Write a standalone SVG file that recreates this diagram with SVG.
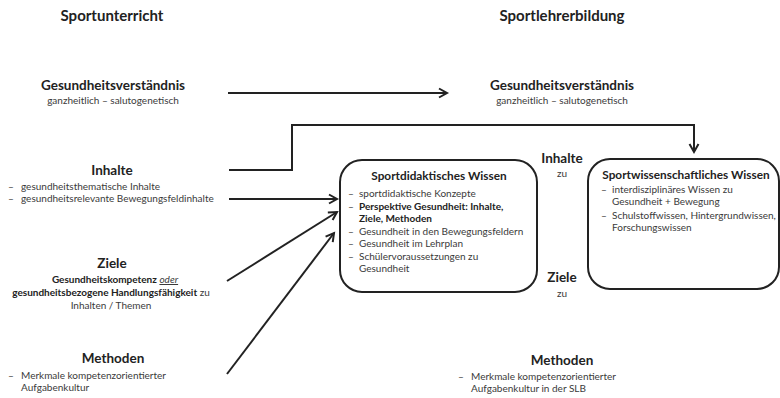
<svg xmlns="http://www.w3.org/2000/svg" width="780" height="398" viewBox="0 0 780 398">
<defs>
<style>
text{font-family:Lato,"Open Sans","Liberation Sans",sans-serif;fill:#333}
.t{font-size:15px;font-weight:bold;fill:#222;text-anchor:middle}
.h{font-size:13.5px;font-weight:bold;fill:#222;text-anchor:middle}
.bh{font-size:11.8px;font-weight:bold;fill:#222;text-anchor:middle}
.s{font-size:10px;fill:#3a3a3a}
.c{text-anchor:middle}
.b{font-weight:bold;fill:#222}
.box{fill:#fff;stroke:#222;stroke-width:2}
.con{fill:none;stroke:#222;stroke-width:2}
</style>
<marker id="ah" markerUnits="userSpaceOnUse" markerWidth="14" markerHeight="14" refX="10" refY="6" orient="auto">
<path d="M2,1.5 L10,6 L2,10.5" fill="none" stroke="#222" stroke-width="2"/>
</marker>
</defs>
<rect width="780" height="398" fill="#fff"/>

<g id="titles">
<text class="t" x="112" y="21">Sportunterricht</text>
<text class="t" x="562" y="21">Sportlehrerbildung</text>
</g>

<g id="connectors">
<line class="con" x1="228" y1="93" x2="447" y2="93" marker-end="url(#ah)"/>
<polyline class="con" points="229,170 292,170 292,125 694,125 694,152" marker-end="url(#ah)"/>
<line class="con" x1="229" y1="199" x2="337" y2="199" marker-end="url(#ah)"/>
<line class="con" x1="227" y1="281" x2="337" y2="212" marker-end="url(#ah)"/>
<line class="con" x1="227" y1="374" x2="334" y2="233" marker-end="url(#ah)"/>
</g>

<g id="gv-left">
<text class="h" x="113" y="90">Gesundheitsverständnis</text>
<text class="s c" x="113" y="104">ganzheitlich – salutogenetisch</text>
</g>

<g id="gv-right">
<text class="h" x="562" y="90">Gesundheitsverständnis</text>
<text class="s c" x="562" y="104">ganzheitlich – salutogenetisch</text>
</g>

<g id="inhalte-left">
<text class="h" x="112" y="175">Inhalte</text>
<text class="s" x="8" y="190">–</text>
<text class="s" x="21" y="190">gesundheitsthematische Inhalte</text>
<text class="s" x="8" y="202">–</text>
<text class="s" x="21" y="202">gesundheitsrelevante Bewegungsfeldinhalte</text>
</g>

<g id="ziele-left">
<text class="h" x="112" y="268">Ziele</text>
<text class="s c" x="115" y="283"><tspan class="b">Gesundheitskompetenz</tspan> <tspan font-style="italic" text-decoration="underline">oder</tspan></text>
<text class="s c" x="111" y="296"><tspan class="b">gesundheitsbezogene Handlungsfähigkeit</tspan> zu</text>
<text class="s c" x="111" y="309">Inhalten / Themen</text>
</g>

<g id="methoden-left">
<text class="h" x="113" y="363">Methoden</text>
<text class="s" x="8" y="379">–</text>
<text class="s" x="21" y="379">Merkmale kompetenzorientierter</text>
<text class="s" x="21" y="391">Aufgabenkultur</text>
</g>

<g id="sportdidaktik">
<rect class="box" x="340" y="160" width="197" height="132" rx="22"/>
<text class="bh" x="439" y="180">Sportdidaktisches Wissen</text>
<text class="s" x="348" y="197">–</text>
<text class="s" x="359" y="197">sportdidaktische Konzepte</text>
<text class="s" x="348" y="209.5">–</text>
<text class="s b" x="359" y="209.5">Perspektive Gesundheit: Inhalte,</text>
<text class="s b" x="359" y="222">Ziele, Methoden</text>
<text class="s" x="348" y="234.5">–</text>
<text class="s" x="359" y="234.5">Gesundheit in den Bewegungsfeldern</text>
<text class="s" x="348" y="247">–</text>
<text class="s" x="359" y="247">Gesundheit im Lehrplan</text>
<text class="s" x="348" y="259.5">–</text>
<text class="s" x="359" y="259.5">Schülervoraussetzungen zu</text>
<text class="s" x="359" y="272">Gesundheit</text>
</g>

<g id="mid-labels">
<text class="h" x="562" y="163">Inhalte</text>
<text class="s c" x="562" y="177">zu</text>
<text class="h" x="562" y="282">Ziele</text>
<text class="s c" x="562" y="297">zu</text>
</g>

<g id="sportwissenschaft">
<rect class="box" x="588" y="159" width="191" height="130" rx="22"/>
<text class="bh" x="686" y="179">Sportwissenschaftliches Wissen</text>
<text class="s" x="601" y="193">–</text>
<text class="s" x="612" y="193">interdisziplinäres Wissen zu</text>
<text class="s" x="612" y="205">Gesundheit + Bewegung</text>
<text class="s" x="601" y="219">–</text>
<text class="s" x="612" y="219">Schulstoffwissen, Hintergrundwissen,</text>
<text class="s" x="612" y="231">Forschungswissen</text>
</g>

<g id="methoden-right">
<text class="h" x="562" y="365">Methoden</text>
<text class="s" x="458" y="380">–</text>
<text class="s" x="471" y="380">Merkmale kompetenzorientierter</text>
<text class="s" x="471" y="392">Aufgabenkultur in der SLB</text>
</g>
</svg>
